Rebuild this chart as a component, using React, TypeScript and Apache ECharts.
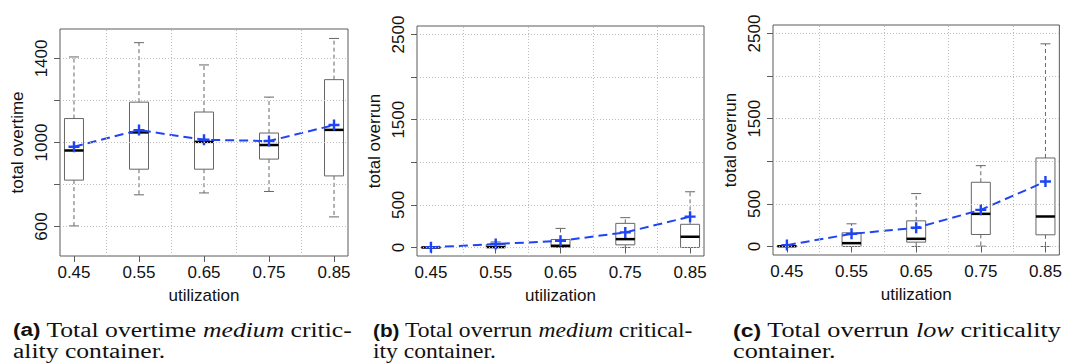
import React, { useEffect, useRef } from "react";
import * as echarts from "echarts";

const utilization = [0.45, 0.55, 0.65, 0.75, 0.85];

// (a) total overtime, medium criticality
const aMin = [603, 751, 760, 767, 646];
const aQ1 = [821, 873, 873, 921, 841];
const aMed = [962, 1048, 1003, 988, 1060];
const aQ3 = [1114, 1192, 1145, 1045, 1299];
const aMax = [1407, 1475, 1369, 1216, 1495];
const aMean = [980, 1059, 1013, 1007, 1083];

// (b) total overrun, medium criticality
const bMin = [0, 0, 0, 0, 0];
const bQ1 = [0, 0, 4, 31, 0];
const bMed = [0, 5, 20, 98, 126];
const bQ3 = [4, 35, 94, 283, 272];
const bMax = [6, 65, 224, 350, 654];
const bMean = [2, 40, 79, 177, 362];

// (c) total overrun, low criticality
const cMin = [0, 0, 0, 4, 0];
const cQ1 = [0, 0, 51, 141, 137];
const cMed = [3, 39, 90, 383, 352];
const cQ3 = [8, 160, 301, 754, 1039];
const cMax = [15, 266, 621, 949, 2379];
const cMean = [16, 148, 219, 430, 762];

const aTicks = [600, 800, 1000, 1200, 1400];
const aLabels = [600, 1000, 1400];
const bcTicks = [0, 500, 1000, 1500, 2000, 2500];
const bcLabels = [0, 500, 1500, 2500];
const xGrid = [0.5, 0.6, 0.7, 0.8];

const BLUE = "#1f44f5";
const FRAME = "#5a5a5a";
const SANS = "Liberation Sans";
const SERIF = "Liberation Serif";

export default function App() {
  const ref = useRef<HTMLDivElement>(null);
  useEffect(() => {
    if (!ref.current) return;
    const chart = echarts.init(ref.current, null, { renderer: "svg" });

    const panels = [
      { grid: { left: 60, top: 29, width: 288, height: 227 }, yMin: 460, yMax: 1540, ticks: aTicks, labels: aLabels, name: "total overtime", mn: aMin, q1: aQ1, md: aMed, q3: aQ3, mx: aMax, mean: aMean },
      { grid: { left: 417, top: 26, width: 287, height: 230 }, yMin: -100, yMax: 2600, ticks: bcTicks, labels: bcLabels, name: "total overrun", mn: bMin, q1: bQ1, md: bMed, q3: bQ3, mx: bMax, mean: bMean },
      { grid: { left: 773, top: 25, width: 288, height: 230 }, yMin: -100, yMax: 2600, ticks: bcTicks, labels: bcLabels, name: "total overrun", mn: cMin, q1: cQ1, md: cMed, q3: cQ3, mx: cMax, mean: cMean },
    ];

    const grids: any[] = [];
    const xAxes: any[] = [];
    const yAxes: any[] = [];
    const series: any[] = [];

    panels.forEach((p, i) => {
      grids.push({ ...p.grid, show: true, borderColor: FRAME, borderWidth: 1, backgroundColor: "#fff" });
      xAxes.push({
        type: "value", gridIndex: i, min: 0.4285, max: 0.8715,
        name: "utilization", nameLocation: "middle", nameGap: 31,
        nameTextStyle: { fontFamily: SANS, fontSize: 17, color: "#111" },
        axisLine: { show: false },
        axisTick: { show: true, length: 6, customValues: utilization, lineStyle: { color: FRAME } },
        axisLabel: { show: true, customValues: utilization, margin: 8, fontFamily: SANS, fontSize: 17, color: "#111", formatter: (v: number) => v.toFixed(2) },
        splitLine: { show: false },
      });
      yAxes.push({
        type: "value", gridIndex: i, min: p.yMin, max: p.yMax,
        name: p.name, nameLocation: "middle", nameGap: 34,
        nameTextStyle: { fontFamily: SANS, fontSize: 17, color: "#111" },
        axisLine: { show: false },
        axisTick: { show: true, length: 6, customValues: p.ticks, lineStyle: { color: FRAME } },
        axisLabel: { show: true, customValues: p.labels, rotate: 90, margin: 10, fontFamily: SANS, fontSize: 17, color: "#111", formatter: (v: number) => String(v) },
        splitLine: { show: false },
      });
      // grid lines
      series.push({
        type: "line", xAxisIndex: i, yAxisIndex: i, data: [], z: 1, silent: true,
        markLine: {
          silent: true, symbol: "none", animation: false,
          label: { show: false },
          lineStyle: { color: "#bdbdbd", type: [1, 2], width: 1 },
          emphasis: { disabled: true },
          data: [...xGrid.map((v) => ({ xAxis: v })), ...p.ticks.map((v) => ({ yAxis: v }))],
        },
      });
      // boxes
      const boxData = utilization.map((u, k) => [u, p.mn[k], p.q1[k], p.md[k], p.q3[k], p.mx[k]]);
      series.push({
        type: "custom", xAxisIndex: i, yAxisIndex: i, z: 2, silent: true,
        data: boxData,
        encode: { x: 0, y: [1, 2, 3, 4, 5] },
        renderItem: (params: any, api: any) => {
          const x = api.value(0);
          const c = (v: number) => api.coord([x, v]);
          const [cx, yMin] = c(api.value(1));
          const yQ1 = c(api.value(2))[1];
          const yMed = c(api.value(3))[1];
          const yQ3 = c(api.value(4))[1];
          const yMax = c(api.value(5))[1];
          const hw = 9.5, cw = 5;
          const dash = { stroke: "#666", lineWidth: 1, lineDash: [4, 3] };
          const solid = { stroke: "#666", lineWidth: 1 };
          return {
            type: "group",
            children: [
              { type: "line", shape: { x1: cx, y1: yQ3, x2: cx, y2: yMax }, style: dash },
              { type: "line", shape: { x1: cx, y1: yQ1, x2: cx, y2: yMin }, style: dash },
              { type: "line", shape: { x1: cx - cw, y1: yMax, x2: cx + cw, y2: yMax }, style: solid },
              { type: "line", shape: { x1: cx - cw, y1: yMin, x2: cx + cw, y2: yMin }, style: solid },
              { type: "rect", shape: { x: cx - hw, y: yQ3, width: 2 * hw, height: yQ1 - yQ3 }, style: { fill: "#fff", stroke: "#666", lineWidth: 1 } },
              { type: "line", shape: { x1: cx - hw, y1: yMed, x2: cx + hw, y2: yMed }, style: { stroke: "#000", lineWidth: 2.5 } },
            ],
          };
        },
      });
      // means
      series.push({
        type: "line", xAxisIndex: i, yAxisIndex: i, z: 3, silent: true,
        data: utilization.map((u, k) => [u, p.mean[k]]),
        symbol: "path://M3.9,0H6.1V3.9H10V6.1H6.1V10H3.9V6.1H0V3.9H3.9Z",
        symbolSize: 11, showSymbol: true,
        itemStyle: { color: BLUE },
        lineStyle: { color: BLUE, width: 2, type: [9, 5] },
        smooth: false,
      });
    });

    const capStyle = {
      rich: {
        b: { fontFamily: SANS, fontWeight: "bold", fontSize: 18, fill: "#111", lineHeight: 20 },
        n: { fontFamily: SERIF, fontSize: 20.5, fill: "#111", lineHeight: 20 },
        i: { fontFamily: SERIF, fontStyle: "italic", fontSize: 20.5, fill: "#111", lineHeight: 20 },
      },
    };
    const caption = (x: number, sx: number, l1: string, l2: string) => [
      { type: "text", x, y: 320, scaleX: sx, style: { text: l1, ...capStyle } },
      { type: "text", x, y: 341, scaleX: sx, style: { text: l2, ...capStyle } },
    ];

    chart.setOption({
      animation: false,
      backgroundColor: "#fff",
      grid: grids,
      xAxis: xAxes,
      yAxis: yAxes,
      series,
      graphic: [
        ...caption(13, 1.25, "{b|(a)}{n| Total overtime }{i|medium}{n| critic-}", "{n|ality container.}"),
        ...caption(373, 1.15, "{b|(b)}{n| Total overrun }{i|medium}{n| critical-}", "{n|ity container.}"),
        ...caption(733, 1.28, "{b|(c)}{n| Total overrun }{i|low}{n| criticality}", "{n|container.}"),
      ],
    });
    return () => chart.dispose();
  }, []);
  return (
    <div
      ref={ref}
      style={{ position: "absolute", left: 0, top: 0, width: 1065, height: 363, background: "#fff" }}
    />
  );
}
